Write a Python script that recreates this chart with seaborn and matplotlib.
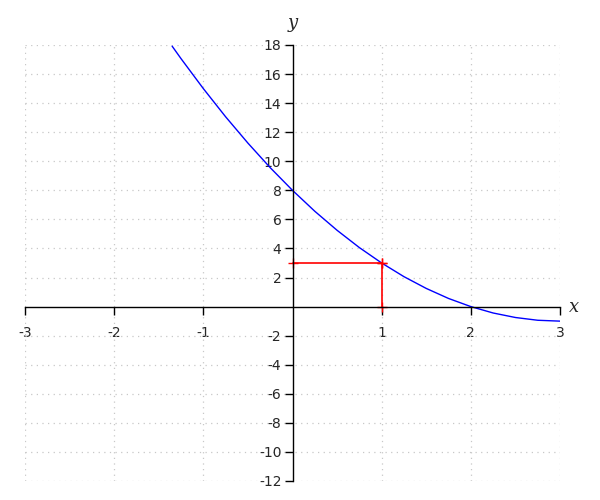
import matplotlib
matplotlib.use('agg')
import matplotlib.pyplot as plt
import seaborn as sns
import pandas as pd

# points
curve_x = [-1.35, -1.25, -1.0, -0.75, -0.5, -0.25, 0.0, 0.25, 0.5, 0.75,
           1.0, 1.25, 1.5, 1.75, 2.0, 2.25, 2.5, 2.75, 3.0]
curve_y = [17.92, 17.06, 15.0, 13.06, 11.25, 9.56, 8.0, 6.56, 5.25, 4.06,
           3.0, 2.06, 1.25, 0.56, 0.0, -0.44, -0.75, -0.94, -1.0]

# red guide lines to the point (1, 3)
guide_h_x = [0, 1]
guide_h_y = [3, 3]
guide_v_x = [1, 1]
guide_v_y = [3, 0]

x_ticks = [-3, -2, -1, 1, 2, 3]
y_ticks = [-12, -10, -8, -6, -4, -2, 2, 4, 6, 8, 10, 12, 14, 16, 18]

sns.set_style("white")
plt.rcParams['axes.unicode_minus'] = False
plt.rcParams['font.family'] = ['DejaVu Sans']

fig = plt.figure(figsize=(6, 5), dpi=100)
ax = fig.add_axes([25 / 600, 1 - 481 / 500, 535 / 600, 436 / 500])

df = pd.DataFrame({'x': curve_x, 'y': curve_y})
sns.lineplot(data=df, x='x', y='y', sort=False, color='blue', linewidth=1, ax=ax)

ax.plot(guide_h_x, guide_h_y, color='red', linewidth=1.2, marker='+', markersize=7)
ax.plot(guide_v_x, guide_v_y, color='red', linewidth=1.2, marker='+', markersize=7)

ax.set_xlim(-3, 3)
ax.set_ylim(-12, 18)

ax.set_xticks(x_ticks)
ax.set_yticks(y_ticks)
ax.grid(which='major', color='#c8c8c8', linestyle=(0, (1, 3.5)), linewidth=0.9)
ax.set_axisbelow(True)

for side in ['top', 'right']:
    ax.spines[side].set_visible(False)
ax.spines['left'].set_position(('data', 0))
ax.spines['bottom'].set_position(('data', 0))
ax.spines['left'].set_color('black')
ax.spines['bottom'].set_color('black')
ax.spines['left'].set_linewidth(1)
ax.spines['bottom'].set_linewidth(1)

ax.tick_params(axis='x', which='major', direction='out', length=6, width=1,
               color='black', labelsize=10, pad=8, bottom=True)
ax.tick_params(axis='y', which='major', direction='out', length=6, width=1,
               color='black', labelsize=10, pad=2, left=True)

ax.set_xlabel('')
ax.set_ylabel('')
ax.text(3.1, 0, 'x', fontsize=13, style='italic', family='DejaVu Serif',
        ha='left', va='center')
ax.text(0, 18.9, 'y', fontsize=13, style='italic', family='DejaVu Serif',
        ha='center', va='bottom', clip_on=False)

fig.savefig('out.png', dpi=100)
